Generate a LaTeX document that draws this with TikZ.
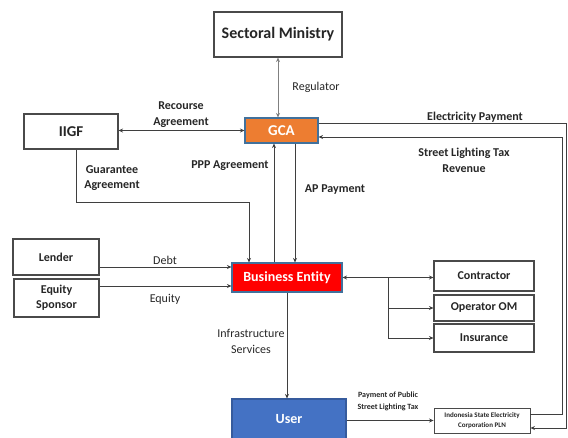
\documentclass[tikz,border=0pt]{standalone}
\usepackage{fontspec}
\setmainfont{Carlito}[Ligatures=NoCommon]
\usetikzlibrary{arrows.meta}

\definecolor{lineg}{HTML}{3F3F3F}
\definecolor{boxline}{HTML}{4A4A4A}
\definecolor{gcaorange}{HTML}{ED7D31}
\definecolor{bered}{HTML}{FF0000}
\definecolor{userblue}{HTML}{4472C4}
\definecolor{edgeblue}{HTML}{41719C}
\definecolor{txtdark}{HTML}{262626}

\tikzset{
  box/.style={draw=boxline, line width=1.1pt, fill=white, inner sep=1pt,
    align=center, text=txtdark, font=\bfseries\fontsize{12}{15}\selectfont},
  colbox/.style={box, draw=edgeblue, text=white},
  lbl/.style={align=center, text=txtdark, font=\fontsize{12}{16}\selectfont},
  blbl/.style={lbl, font=\bfseries\fontsize{12}{16}\selectfont},
  conn/.style={draw=lineg, line width=0.8pt},
  arr/.style={conn, -{Stealth[length=4.5pt,width=4pt]}},
  arrb/.style={conn, {Stealth[length=4.5pt,width=4pt]}-{Stealth[length=4.5pt,width=4pt]}},
}

\begin{document}
\begin{tikzpicture}[x=1pt,y=-1pt]
\useasboundingbox (0,0) rectangle (568,437);

% boxes
\node[box, minimum width=128pt, minimum height=45pt, font=\bfseries\fontsize{16}{18}\selectfont]
  (sm) at (278,34.5) {Sectoral Ministry};
\node[box, minimum width=94pt, minimum height=35pt, font=\bfseries\fontsize{15}{18}\selectfont]
  (iigf) at (71,131.5) {IIGF};
\node[colbox, fill=gcaorange, minimum width=73pt, minimum height=25pt, font=\bfseries\fontsize{15}{18}\selectfont]
  (gca) at (281.5,130.5) {GCA};
\node[box, minimum width=86pt, minimum height=36pt] (lender) at (56,257) {Lender};
\node[box, minimum width=85pt, minimum height=38pt] (eq) at (56.5,298) {Equity\\Sponsor};
\node[colbox, fill=bered, minimum width=110pt, minimum height=29pt, font=\bfseries\fontsize{14}{16}\selectfont]
  (be) at (287,277.5) {Business Entity};
\node[box, minimum width=100pt, minimum height=30pt] (contractor) at (484,276) {Contractor};
\node[box, minimum width=100pt, minimum height=26pt] (om) at (484,308) {Operator OM};
\node[box, minimum width=100pt, minimum height=28pt] (ins) at (484,338) {Insurance};
\node[colbox, draw=userblue!80!black, fill=userblue, minimum width=114pt, minimum height=42pt,
  font=\bfseries\fontsize{14}{16}\selectfont, text depth=0pt] (user) at (289,420) {\raisebox{3pt}{User}};
\node[box, line width=0.9pt, minimum width=96pt, minimum height=25pt,
  font=\bfseries\fontsize{7}{10}\selectfont] (pln) at (482,420.5) {Indonesia State Electricity\\Corporation PLN};

% bend points
\coordinate (gbend) at (249,202);
\coordinate (br) at (388,277.5);
\coordinate (ep1) at (566,123);
\coordinate (ep2) at (566,428);
\coordinate (st1) at (562,137);
\coordinate (st2) at (562,414);

% connectors
\draw[arrb, draw=gray] (sm.south) -- (sm.south |- gca.north);
\draw[arrb] (iigf.east |- gca.west) -- (gca.west);
\draw[arr] ([xshift=5pt]iigf.south) |- (gbend) -- (gbend |- be.north);
\draw[arr] (be.north -| 274,0) -- (gca.south -| 274,0);
\draw[arr] (gca.south -| 295,0) -- (be.north -| 295,0);
\draw[arr] (gca.east |- ep1) -- (ep1) -- (ep2) -- (pln.east |- ep2);
\draw[arr] (pln.east |- st2) -- (st2) -- (st1) -- (gca.east |- st1);
\draw[arr] (lender.east |- 0,267) -- (be.west |- 0,267);
\draw[arr] (eq.east |- 0,286) -- (be.west |- 0,286);
\draw[arrb] (be.east) -- (be.east -| contractor.west);
\draw[arr] (br) |- (om.west);
\draw[arr] (br) |- (ins.west);
\draw[arr] (be.south) -- (be.south |- user.north);
\draw[arr] (user.east |- pln.west) -- (pln.west);

% connector labels
\node[lbl] (lreg) at (316,87) {Regulator};
\node[blbl] (lrec) at (181,115) {Recourse\\Agreement};
\node[blbl] (lelec) at (475,117) {Electricity Payment};
\node[blbl] (lslt) at (464,160.5) {Street Lighting Tax\\Revenue};
\node[blbl] (lppp) at (230,166) {PPP Agreement};
\node[blbl] (lap) at (335,190) {AP Payment};
\node[blbl, font=\bfseries\fontsize{12}{15}\selectfont] (lgua) at (112,178.5) {Guarantee\\Agreement};
\node[lbl] (ldebt) at (165,260) {Debt};
\node[lbl] (lequity) at (165,299) {Equity};
\node[lbl] (linfra) at (251,341) {Infrastructure\\Services};
\node[blbl, font=\bfseries\fontsize{8}{11.5}\selectfont] (lpay) at (388,401.5) {Payment of Public\\Street Lighting Tax};
\end{tikzpicture}
\end{document}
